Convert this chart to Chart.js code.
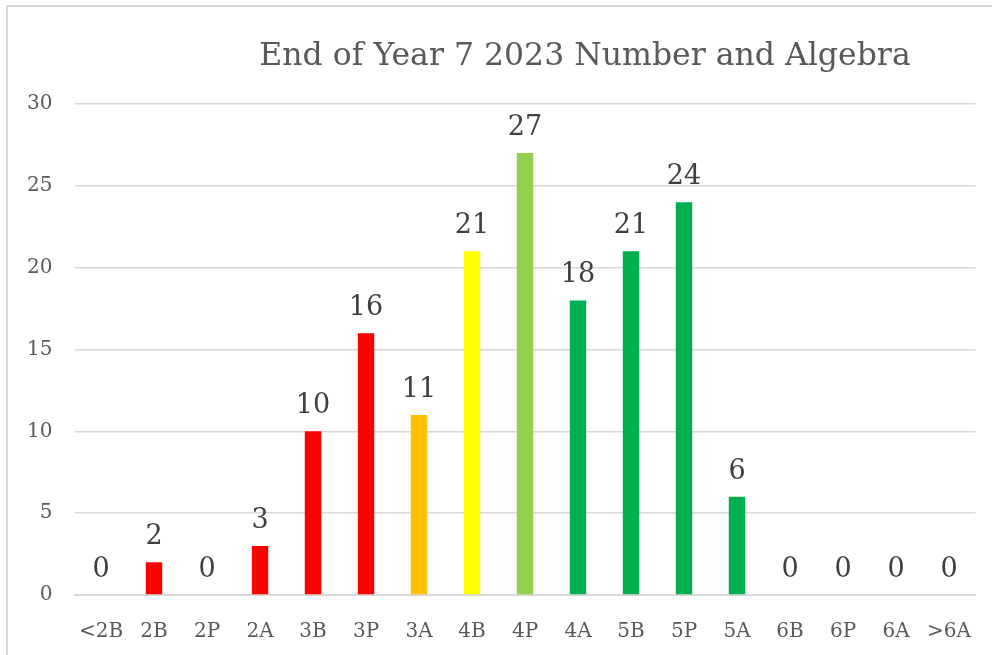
<!DOCTYPE html>
<html>
<head>
<meta charset="utf-8">
<script src="https://cdn.jsdelivr.net/npm/chart.js@4"></script>
<style>
  html, body { margin: 0; padding: 0; background: #fff; }
  #wrap { position: relative; width: 992px; height: 655px; overflow: hidden; }
  #frame { position: absolute; left: 6px; top: 5px; width: 1100px; height: 800px;
           border-top: 2px solid #d9d9d9; border-left: 2px solid #d9d9d9; }
  canvas { position: absolute; left: 0; top: 0; }
</style>
</head>
<body>
<div id="wrap">
  <div id="frame"></div>
  <canvas id="levels" width="992" height="655"></canvas>
</div>
<script>
const chartTitle = 'End of Year 7 2023 Number and Algebra';
const categories = ['<2B', '2B', '2P', '2A', '3B', '3P', '3A', '4B', '4P', '4A', '5B', '5P', '5A', '6B', '6P', '6A', '>6A'];
const counts = [0, 2, 0, 3, 10, 16, 11, 21, 27, 18, 21, 24, 6, 0, 0, 0, 0];
const barColours = ['#ff0000', '#ff0000', '#ff0000', '#ff0000', '#ff0000', '#ff0000', '#ffc000', '#ffff00',
                    '#92d050', '#00b050', '#00b050', '#00b050', '#00b050', '#00b050', '#00b050', '#00b050', '#00b050'];

const textColour = '#595959';
const serif = '"DejaVu Serif", serif';

// value labels above each bar
const valueLabels = {
    id: 'valueLabels',
    afterDatasetsDraw(chart) {
        const ctx = chart.ctx;
        const meta = chart.getDatasetMeta(0);
        ctx.save();
        ctx.font = '27px ' + serif;
        ctx.fillStyle = '#404040';
        ctx.textAlign = 'center';
        ctx.textBaseline = 'alphabetic';
        meta.data.forEach((bar, i) => {
            ctx.fillText(String(counts[i]), bar.x, bar.y - 18);
        });
        ctx.restore();
    }
};

// title sits right of centre like the spreadsheet original
const offsetTitle = {
    id: 'offsetTitle',
    afterDraw(chart) {
        const ctx = chart.ctx;
        ctx.save();
        ctx.font = '31.5px ' + serif;
        ctx.fillStyle = textColour;
        ctx.textAlign = 'center';
        ctx.textBaseline = 'alphabetic';
        ctx.fillText(chartTitle, 585, 65);
        ctx.restore();
    }
};

const ctx = document.getElementById('levels').getContext('2d');
const chart = new Chart(ctx, {
    type: 'bar',
    data: {
        labels: categories,
        datasets: [{
            data: counts,
            backgroundColor: barColours,
            borderWidth: 0,
            barPercentage: 0.31,
            categoryPercentage: 1
        }]
    },
    options: {
        responsive: false,
        animation: false,
        layout: { padding: { top: 104, right: 16.5, bottom: 0, left: 0 } },
        plugins: {
            legend: { display: false },
            title: { display: false },
            tooltip: { enabled: false }
        },
        scales: {
            x: {
                grid: { display: false },
                border: { display: true, color: '#d9d9d9', width: 2 },
                ticks: {
                    color: textColour,
                    font: { family: serif, size: 20 },
                    padding: 17,
                    maxRotation: 0,
                    autoSkip: false
                },
                afterFit(scale) { scale.height = 60; }
            },
            y: {
                min: 0,
                max: 30,
                grid: { color: '#d9d9d9', lineWidth: 1.5, drawTicks: false },
                border: { display: false },
                ticks: {
                    stepSize: 5,
                    color: textColour,
                    font: { family: serif, size: 20 },
                    padding: 22
                },
                afterFit(scale) { scale.width = 74.5; }
            }
        }
    },
    plugins: [valueLabels, offsetTitle]
});
</script>
</body>
</html>
